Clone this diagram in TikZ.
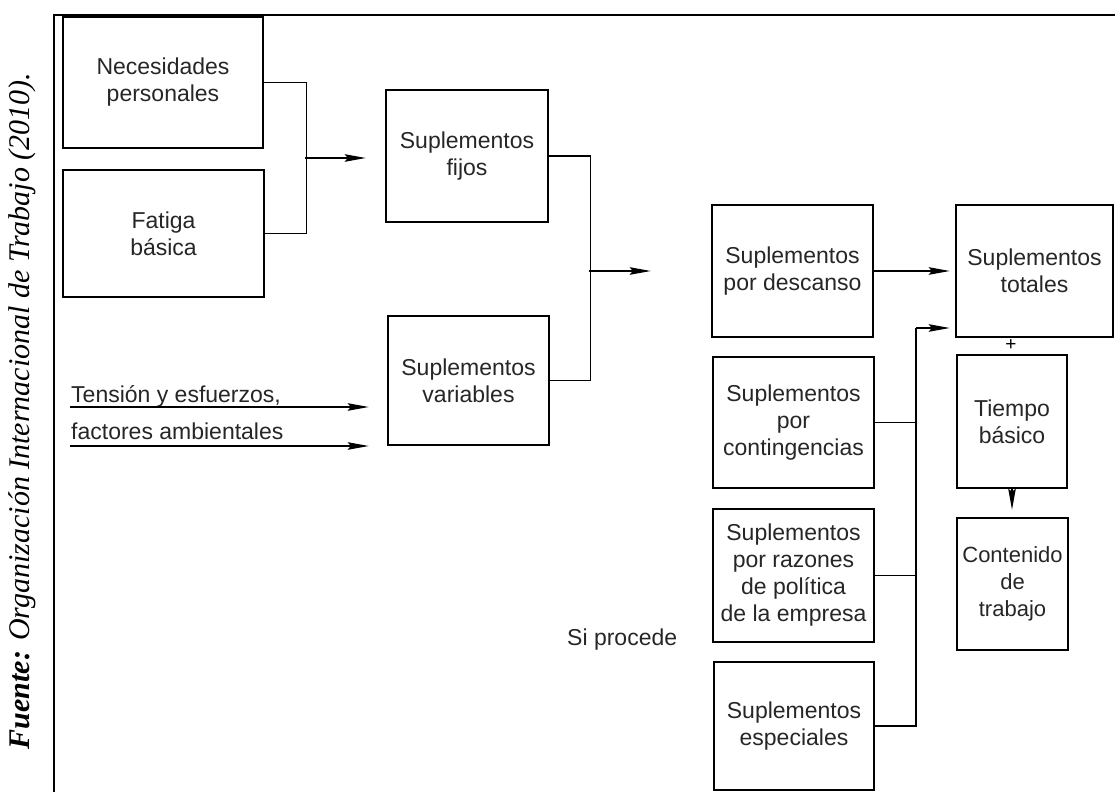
\documentclass[tikz,border=0pt]{standalone}
\usepackage{fontspec}
\setmainfont{Liberation Serif}
\newfontfamily\diagfont{Liberation Sans}
\usetikzlibrary{arrows.meta}
\begin{document}
\begin{tikzpicture}[x=1pt,y=-1pt,
  box/.style={draw, line width=2.5pt, rectangle, inner sep=0pt, align=center,
    font=\diagfont\fontsize{23}{27}\selectfont, text=black!85},
  link/.style={line width=1.4pt},
  arr/.style={link, -{Stealth[length=21pt,width=7.5pt,inset=3pt]}},
  lbl/.style={font=\diagfont\fontsize{23}{27}\selectfont, text=black!85, inner sep=0pt}]
\useasboundingbox (0,0) rectangle (1115,792);

% frame
\draw[line width=2.2pt] (54,792) -- (54,15) -- (1115,15);

% source note
\node[rotate=90, font=\fontsize{30}{30}\selectfont\itshape] (src) at (22,411)
  {\textbf{Fuente:} Organización Internacional de Trabajo (2010).};

% boxes
\node[box, minimum width=200pt, minimum height=131pt] (nec) at (163,82.5) {Necesidades\\personales};
\node[box, minimum width=201pt, minimum height=127pt] (fat) at (163.5,233.5) {Fatiga\\básica};
\node[box, minimum width=162pt, minimum height=132pt] (fijos) at (467,156) {Suplementos\\fijos};
\node[box, minimum width=161pt, minimum height=129pt] (var) at (468.5,380.5) {Suplementos\\variables};
\node[box, minimum width=161pt, minimum height=132pt] (desc) at (792.5,271) {Suplementos\\por descanso};
\node[box, minimum width=157pt, minimum height=132pt] (tot) at (1034.5,271) {Suplementos\\totales};
\node[box, minimum width=161pt, minimum height=131pt] (cont) at (793.5,422.5) {Suplementos\\por\\contingencias};
\node[box, minimum width=110pt, minimum height=133pt] (tiempo) at (1012,421.5) {Tiempo\\básico};
\node[box, minimum width=161pt, minimum height=133pt] (raz) at (793.5,575.5) {Suplementos\\por razones\\de política\\de la empresa};
\node[box, minimum width=160pt, minimum height=128pt] (esp) at (794,726) {Suplementos\\especiales};
\node[box, minimum width=111pt, minimum height=132pt, font=\diagfont\fontsize{22}{27}\selectfont] (contenido) at (1012.5,584) {Contenido\\de\\trabajo};

% free labels
\node[lbl, anchor=base west] (ten) at (71,402) {Tensión y esfuerzos,};
\node[lbl, anchor=base west] (fac) at (71,439) {factores ambientales};
\node[lbl, anchor=base west] (si) at (567,645) {Si procede};
\node[font=\diagfont\fontsize{19}{19}\selectfont, inner sep=0pt] (plus) at (1011,345) {+};

% connectors
\draw[link] (nec.east) -- ++(42,0) |- (fat.east);
\coordinate (j1) at (305,158);
\draw[arr, shorten >=19pt] (j1) -- (fijos.west |- j1);

\draw[link] (fijos.east) -- ++(41,0) |- (var.east);
\coordinate (j2) at (589,271);
\draw[arr, shorten >=60pt] (j2) -- (desc.west |- j2);

\coordinate (ten-s) at (70,407);
\coordinate (fac-s) at (70,446);
\draw[arr, shorten >=18pt] (ten-s) -- (var.west |- ten-s);
\draw[arr, shorten >=18pt] (fac-s) -- (var.west |- fac-s);

\draw[arr, shorten >=5pt] (desc.east) -- (tot.west);

\coordinate (j3) at (916,328);
\draw[link] (esp.east) -| (j3);
\draw[link] (cont.east) -- (cont.east -| j3);
\draw[link] (raz.east) -- (raz.east -| j3);
\draw[arr, shorten >=5pt] (j3) -- (tot.west |- j3);

\draw[arr, shorten >=7pt] (tiempo.south) -- (tiempo.south |- contenido.north);
\end{tikzpicture}
\end{document}
